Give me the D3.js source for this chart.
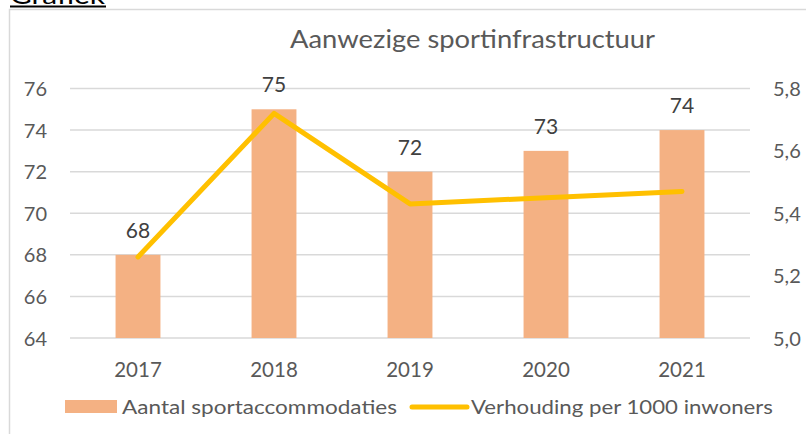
<!DOCTYPE html>
<html>
<head>
<meta charset="utf-8">
<script src="https://cdn.jsdelivr.net/npm/d3@7"></script>
<style>
  body { margin: 0; background: #fff; }
  svg { display: block; font-family: Lato, "Open Sans", sans-serif; }
</style>
</head>
<body>
<svg id="chart"></svg>
<script>
// Chart data
var years = ["2017", "2018", "2019", "2020", "2021"];
var accommodaties = [68, 75, 72, 73, 74];
var verhouding = [5.26, 5.72, 5.43, 5.45, 5.47];
var leftTicks = [64, 66, 68, 70, 72, 74, 76];
var rightTicks = [5.0, 5.2, 5.4, 5.6, 5.8];

var width = 806, height = 434;
var margin = { left: 70, right: 56, top: 88.5, bottom: 96 };

var svg = d3.select("#chart")
  .attr("width", width)
  .attr("height", height);

// Heading above the frame (cut off at the top)
svg.append("text")
  .attr("x", 10)
  .attr("y", 4)
  .attr("textLength", 95)
  .attr("lengthAdjust", "spacingAndGlyphs")
  .style("font-size", "25px")
  .attr("fill", "#000")
  .text("Grafiek");
svg.append("line")
  .attr("x1", 10).attr("x2", 106)
  .attr("y1", 6.5).attr("y2", 6.5)
  .attr("stroke", "#000")
  .attr("stroke-width", 2);

// Chart frame
svg.append("rect")
  .attr("x", 9.5).attr("y", 9.5)
  .attr("width", 820).attr("height", 440)
  .attr("fill", "none")
  .attr("stroke", "#d9d9d9")
  .attr("stroke-width", 1.5);

var x = d3.scaleBand()
  .domain(years)
  .range([margin.left, width - margin.right])
  .paddingInner(0.67)
  .paddingOuter(0.335);

var y = d3.scaleLinear()
  .domain([64, 76])
  .range([height - margin.bottom, margin.top]);

var y2 = d3.scaleLinear()
  .domain([5.0, 5.8])
  .range([height - margin.bottom, margin.top]);

// Gridlines
svg.append("g")
  .selectAll("line")
  .data(leftTicks)
  .enter().append("line")
  .attr("x1", margin.left)
  .attr("x2", width - margin.right)
  .attr("y1", function(d) { return y(d); })
  .attr("y2", function(d) { return y(d); })
  .attr("stroke", "#d9d9d9")
  .attr("stroke-width", 1.5);

// Left axis
var leftAxis = svg.append("g")
  .attr("transform", "translate(" + 47 + ",0)")
  .call(d3.axisLeft(y).tickValues(leftTicks).tickSize(0).tickPadding(0));
leftAxis.select(".domain").remove();
leftAxis.selectAll("text")
  .attr("dy", "0.35em")
  .style("font-size", "20px")
  .style("font-family", "Lato, sans-serif")
  .attr("fill", "#595959");

// Right axis
var rightAxis = svg.append("g")
  .attr("transform", "translate(" + 773 + ",0)")
  .call(d3.axisRight(y2).tickValues(rightTicks).tickSize(0).tickPadding(0)
    .tickFormat(function(d) { return d3.format(".1f")(d).replace(".", ","); }));
rightAxis.select(".domain").remove();
rightAxis.selectAll("text")
  .attr("dy", "0.35em")
  .style("font-size", "20px")
  .style("font-family", "Lato, sans-serif")
  .attr("fill", "#595959");

// Bottom axis (year labels)
var bottomAxis = svg.append("g")
  .attr("transform", "translate(0," + (height - margin.bottom) + ")")
  .call(d3.axisBottom(x).tickSize(0).tickPadding(0));
bottomAxis.select(".domain").remove();
bottomAxis.selectAll("text")
  .attr("y", 39)
  .attr("dy", 0)
  .style("font-size", "20.5px")
  .style("font-family", "Lato, sans-serif")
  .attr("fill", "#595959");

// Bars
svg.append("g")
  .selectAll("rect")
  .data(accommodaties)
  .enter().append("rect")
  .attr("x", function(d, i) { return x(years[i]); })
  .attr("y", function(d) { return y(d); })
  .attr("width", x.bandwidth())
  .attr("height", function(d) { return y(64) - y(d); })
  .attr("fill", "#f4b183");

// Bar labels
svg.append("g")
  .selectAll("text")
  .data(accommodaties)
  .enter().append("text")
  .attr("x", function(d, i) { return x(years[i]) + x.bandwidth() / 2; })
  .attr("y", function(d) { return y(d) - 17; })
  .style("text-anchor", "middle")
  .style("font-size", "21px")
  .attr("fill", "#404040")
  .text(function(d) { return d; });

// Line
var line = d3.line()
  .x(function(d, i) { return x(years[i]) + x.bandwidth() / 2; })
  .y(function(d) { return y2(d); });

svg.append("path")
  .datum(verhouding)
  .attr("d", line)
  .attr("fill", "none")
  .attr("stroke", "#ffc000")
  .attr("stroke-width", 5)
  .attr("stroke-linecap", "round")
  .attr("stroke-linejoin", "round");

// Title
svg.append("text")
  .attr("x", 290)
  .attr("y", 48)
  .attr("textLength", 365)
  .attr("lengthAdjust", "spacingAndGlyphs")
  .style("font-size", "25px")
  .attr("fill", "#595959")
  .text("Aanwezige sportinfrastructuur");

// Legend
var legend = svg.append("g");
legend.append("rect")
  .attr("x", 65).attr("y", 400)
  .attr("width", 52).attr("height", 13)
  .attr("fill", "#f4b183");
legend.append("text")
  .attr("x", 122).attr("y", 414)
  .attr("textLength", 275)
  .attr("lengthAdjust", "spacingAndGlyphs")
  .style("font-size", "19.5px")
  .attr("fill", "#595959")
  .text("Aantal sportaccommodaties");
legend.append("line")
  .attr("x1", 412).attr("x2", 467)
  .attr("y1", 407).attr("y2", 407)
  .attr("stroke", "#ffc000")
  .attr("stroke-width", 5)
  .attr("stroke-linecap", "round");
legend.append("text")
  .attr("x", 471).attr("y", 414)
  .attr("textLength", 302)
  .attr("lengthAdjust", "spacingAndGlyphs")
  .style("font-size", "19.5px")
  .attr("fill", "#595959")
  .text("Verhouding per 1000 inwoners");
</script>
</body>
</html>
